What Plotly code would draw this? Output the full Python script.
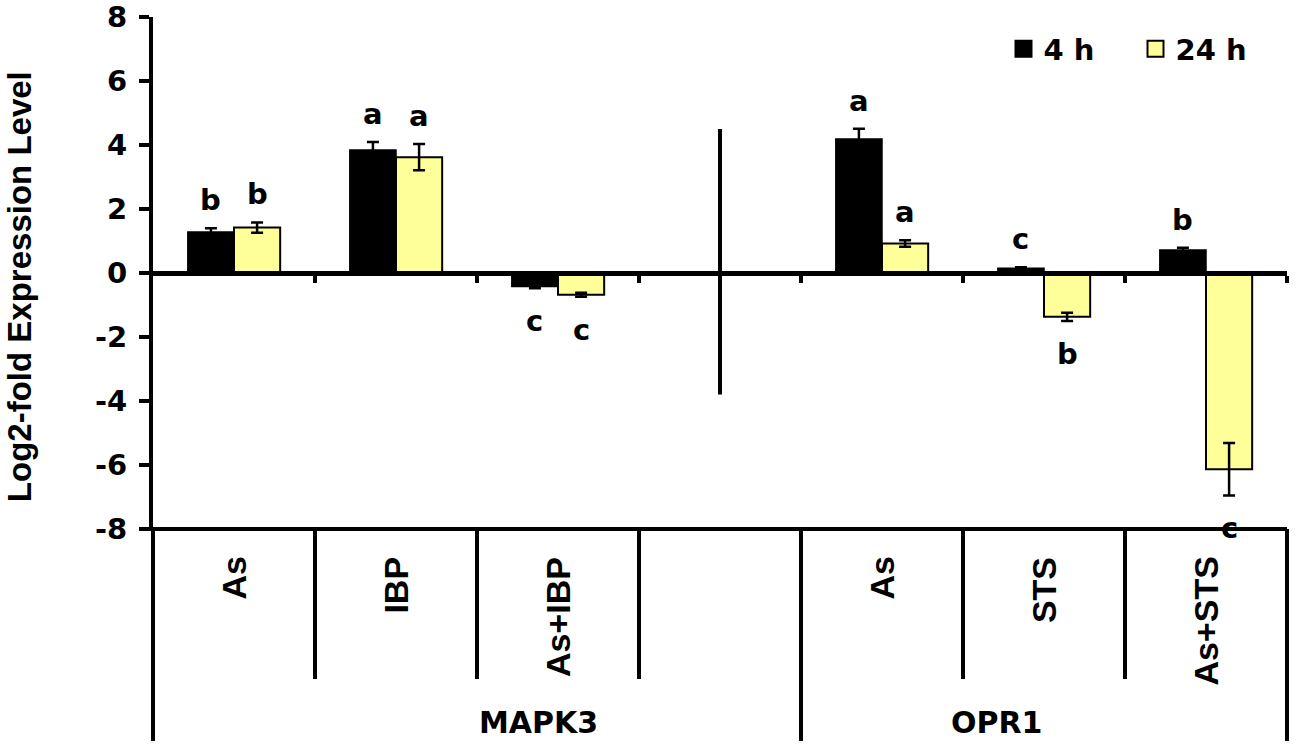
import plotly.graph_objects as go

# Log2-fold expression of MAPK3 and OPR1 after treatments, at 4 h and 24 h
categories = ["As", "IBP", "As+IBP", "", "As", "STS", "As+STS"]
genes = ["MAPK3", "OPR1"]
gene_spans = [(0, 3), (4, 6)]  # first and last category index of each gene block

h4 = [1.28, 3.84, -0.42, None, 4.19, 0.15, 0.72]
h4_err = [0.12, 0.25, 0.06, None, 0.32, 0.03, 0.07]
h24 = [1.42, 3.62, -0.68, None, 0.92, -1.37, -6.13]
h24_err = [0.16, 0.41, 0.06, None, 0.10, 0.13, 0.82]

letters_4h = ["b", "a", "c", "", "a", "c", "b"]
letters_24h = ["b", "a", "c", "", "a", "b", "c"]

y_ticks = [-8, -6, -4, -2, 0, 2, 4, 6, 8]
y_ticktext = ["-8", "-6", "-4", "-2", "0", "2", "4", "6", "8"]

ARIAL = "Liberation Sans, Arial, sans-serif"
WIDE = "DejaVu Sans, Liberation Sans, sans-serif"
YELLOW = "#FFFF99"
BARGAP = 0.43

pos = list(range(len(categories)))
xmin, xmax = -0.5, len(categories) - 0.5


def xfrac(v):
    # data x -> paper fraction
    return (v - xmin) / (xmax - xmin)


fig = go.Figure()
fig.add_trace(go.Bar(
    x=pos, y=h4, name="4 h", showlegend=False,
    marker=dict(color="black", line=dict(color="black", width=1.5)),
    error_y=dict(type="data", array=h4_err, color="black", thickness=2.5, width=6),
))
fig.add_trace(go.Bar(
    x=pos, y=h24, name="24 h", showlegend=False,
    marker=dict(color=YELLOW, line=dict(color="black", width=2)),
    error_y=dict(type="data", array=h24_err, color="black", thickness=2.5, width=6),
))

# legend entries (bigger squares than the bar legend symbol)
for name, col in [("4 h", "black"), ("24 h", YELLOW)]:
    fig.add_trace(go.Scatter(
        x=[None], y=[None], mode="markers", name=name,
        marker=dict(symbol="square", size=16, color=col, line=dict(color="black", width=2)),
    ))

# significance letters above / below each bar
half = (1 - BARGAP) / 4
for vals, errs, letters, shift in [(h4, h4_err, letters_4h, -half), (h24, h24_err, letters_24h, half)]:
    for i, (v, e, t) in enumerate(zip(vals, errs, letters)):
        if v is None or not t:
            continue
        end = v + e if v >= 0 else v - e
        fig.add_annotation(
            x=i + shift, y=end, text=t, showarrow=False,
            yshift=28 if v >= 0 else -33, yanchor="middle",
            font=dict(family=WIDE, size=29, color="black", weight="bold"),
        )

# y axis title
fig.add_annotation(
    x=-0.117, y=0.473, xref="paper", yref="paper", text="Log2-fold Expression Level",
    textangle=-90, showarrow=False, xanchor="center", yanchor="middle",
    font=dict(family=ARIAL, size=33, color="black", weight="bold"),
)

# category labels, rotated, under the plot
for i, c in enumerate(categories):
    if not c:
        continue
    fig.add_annotation(
        x=xfrac(i), y=-0.051, xref="paper", yref="paper", text=c,
        textangle=-90, showarrow=False, xanchor="center", yanchor="top",
        font=dict(family=ARIAL, size=34, color="black", weight="bold"),
    )

# gene labels
for g, (a, b) in zip(genes, gene_spans):
    lo = a - 0.5
    hi = b + 0.5
    fig.add_annotation(
        x=xfrac((lo + hi) / 2), y=-0.377, xref="paper", yref="paper", text=g,
        showarrow=False, yanchor="middle",
        font=dict(family=WIDE, size=30, color="black", weight="bold"),
    )

line = dict(color="black", width=4)
# bottom line at -8
fig.add_shape(type="line", xref="paper", yref="paper", x0=-0.012, x1=1, y0=0, y1=0, line=line)
# short separators between treatments
for i in range(len(categories) - 1):
    b = i + 0.5
    if any(abs(b - (s[0] - 0.5)) < 1e-9 for s in gene_spans[1:]):
        continue
    fig.add_shape(type="line", xref="paper", yref="paper", x0=xfrac(b), x1=xfrac(b),
                  y0=0, y1=-0.293, line=line)
# long separators between genes
for b in [xmin] + [s[0] - 0.5 for s in gene_spans[1:]] + [xmax]:
    fig.add_shape(type="line", xref="paper", yref="paper", x0=xfrac(b), x1=xfrac(b),
                  y0=0, y1=-0.414, line=line)
# divider inside the plot between the two genes
fig.add_shape(type="line", xref="paper", yref="y", x0=xfrac(3), x1=xfrac(3),
              y0=4.5, y1=-3.8, line=line)

fig.update_layout(
    width=1300, height=746,
    margin=dict(l=153, r=13, t=17, b=217, autoexpand=False),
    paper_bgcolor="white", plot_bgcolor="white",
    barmode="group", bargap=BARGAP, bargroupgap=0,
    font=dict(family=ARIAL, color="black", weight="bold"),
    legend=dict(
        orientation="h", x=0.75, xanchor="left", y=0.9375, yanchor="middle",
        font=dict(family=WIDE, size=29, color="black", weight="bold"),
        bgcolor="rgba(0,0,0,0)", itemwidth=30, entrywidth=87, entrywidthmode="pixels",
    ),
    xaxis=dict(
        range=[xmin, xmax], anchor="free", position=0.5, automargin=False,
        showline=True, linecolor="black", linewidth=4.5,
        tickmode="array", tickvals=[i + 0.5 for i in pos], ticks="outside",
        ticklen=7, tickwidth=3.5, tickcolor="black",
        showticklabels=False, showgrid=False, zeroline=False,
    ),
    yaxis=dict(
        range=[-8, 8], tickmode="array", tickvals=y_ticks, ticktext=y_ticktext,
        ticks="outside", ticklen=10, tickwidth=3.5, automargin=False,
        ticklabeloverflow="allow",
        tickcolor="black", showline=True, linecolor="black", linewidth=4,
        showgrid=False, zeroline=False,
        tickfont=dict(family=WIDE, size=29, color="black", weight="bold"),
        ticklabelstandoff=6,
    ),
)

# drop the default 8px page margin so the figure sits at the window's corner
fig.write_html("out.html", config={"displayModeBar": False},
               post_script="document.body.style.margin = '0';")
